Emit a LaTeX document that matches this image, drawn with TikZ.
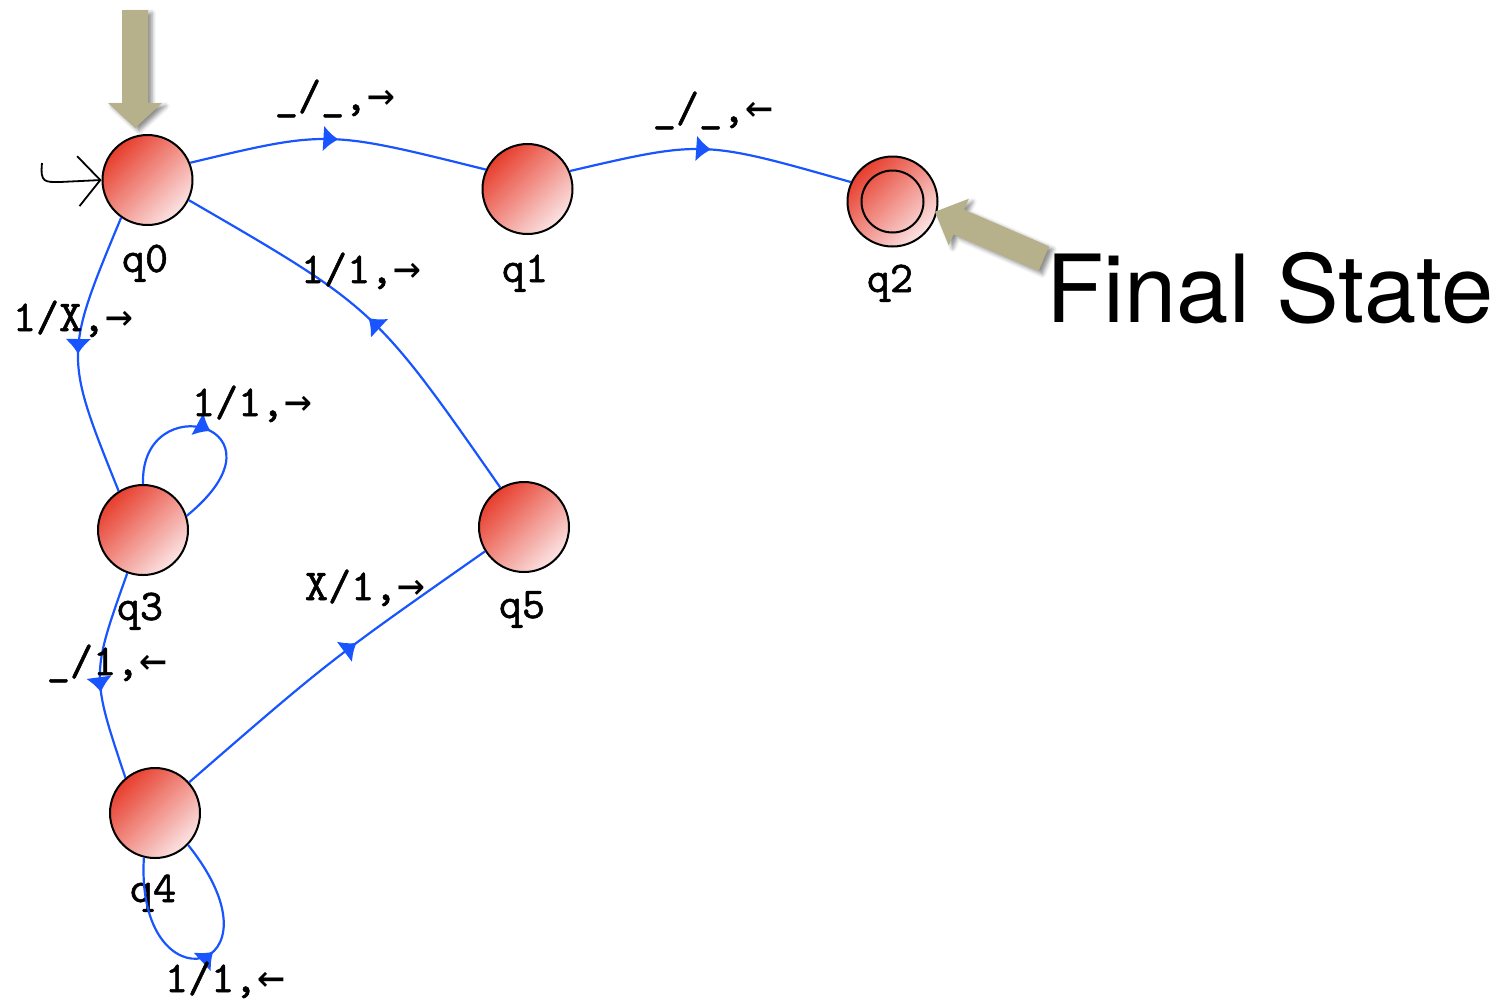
\documentclass[tikz,border=0pt]{standalone}
\usepackage{fontspec}
\newfontfamily\labfont{lmmono10-regular.otf}[FakeBold=1.2]
\newfontfamily\arrfont{DejaVu Sans Mono}[Scale=1.05]
\newfontfamily\bigfont{TeX Gyre Heros}
\usetikzlibrary{arrows.meta,decorations.markings,shadows.blur}
\definecolor{nodeRed}{RGB}{231,62,45}
\definecolor{nodePink}{RGB}{251,228,228}
\definecolor{edgeBlue}{RGB}{25,85,255}
\definecolor{khaki}{RGB}{182,177,139}
\tikzset{
  state/.style={circle, draw=black, line width=1pt, minimum size=45pt, inner sep=0pt,
    top color=nodeRed, bottom color=nodePink, shading angle=45},
  slabel/.style={anchor=base, inner sep=0pt, font=\labfont\fontsize{22}{26}\selectfont},
  elabel/.style={anchor=base, inner sep=0pt, font=\labfont\fontsize{22}{26}\selectfont},
  edge/.style={draw=edgeBlue, line width=1.1pt},
  midarrow/.style={postaction={decorate}, decoration={markings,
    mark=at position #1 with {\arrow[edgeBlue]{Latex[length=7.5pt,width=13pt]}}}},
  midarrow/.default=0.5,
  pointer/.style={fill=khaki, blur shadow={shadow xshift=2pt, shadow yshift=-1.5pt, shadow blur radius=2pt, shadow opacity=45}},
  initline/.style={draw=black, line width=0.9pt}
}
\begin{document}
\begin{tikzpicture}[x=0.5pt,y=-0.5pt]
\useasboundingbox (0,0) rectangle (1500,1003);
% states
\node[state] (q0) at (147.5,180) {};
\node[state] (q1) at (527.5,189) {};
\node[state] (q2) at (892.5,201.5) {};
\node[state] (q3) at (143,530) {};
\node[state] (q5) at (524,527) {};
\node[state] (q4) at (155,813) {};
\draw[line width=1pt] (q2.center) circle[radius=15.5pt];
% state names
\node[slabel] (n0) at (145,272) {q0};
\node[slabel] (n1) at (525,282) {q1};
\node[slabel] (n2) at (890,292) {q2};
\node[slabel] (n3) at (140,620) {q3};
\node[slabel] (n5) at (522,618) {q5};
\node[slabel] (n4) at (153,902) {q4};
% transitions
\draw[edge, midarrow] (q0.22) .. controls (327,130) .. (q1.155);
\draw[edge, midarrow] (q1.23) .. controls (703,140) .. (q2.155);
\draw[edge, midarrow] (q5.121) .. controls (375,308) .. (q0.-26);
\draw[edge, midarrow] (q0.-125) .. controls (64,355) .. (q3.122);
\draw[edge, midarrow] (q3.90) .. controls (140,385) and (298,425) .. (q3.18);
\draw[edge, midarrow=0.58] (q3.-110) .. controls (91,675) .. (q4.130);
\draw[edge, midarrow=0.58] (q4.42) .. controls (330,660) .. (q5.-148);
\draw[edge, midarrow=0.55] (q4.-104) .. controls (135,1012) and (292,975) .. (q4.-44);
% transition labels
\node[elabel] (l01) at (335,110) {\_/\_,{\arrfont →}};
\node[elabel] (l12) at (713,122) {\_/\_,{\arrfont ←}};
\node[elabel] (l50) at (361,283) {1/1,{\arrfont →}};
\node[elabel] (l03) at (73,331) {1/X,{\arrfont →}};
\node[elabel] (l33) at (252,416) {1/1,{\arrfont →}};
\node[elabel] (l34) at (107,675) {\_/1,{\arrfont ←}};
\node[elabel] (l45) at (365,600) {X/1,{\arrfont →}};
\node[elabel] (l44) at (225,992) {1/1,{\arrfont ←}};
% initial state marker
\coordinate (ini) at (42,163);
\draw[initline, -{Straight Barb[length=11pt,width=25pt]}] (ini) .. controls (40,183) and (45,182) .. (60,182) -- (q0.west);
% annotation pointers
\fill[pointer] (122,10) -- (148,10) -- (148,103) -- (162,103) -- (135,128) -- (108,103) -- (122,103) -- cycle;
\fill[pointer] (935,211.7) -- (968.9,198.7) -- (964.1,209.6) -- (1049.1,246.3) -- (1038.5,271.1) -- (953.5,234.4) -- (948.7,245.3) -- cycle;
\node[anchor=base west, inner sep=0pt, font=\bigfont\fontsize{47}{51}\selectfont] (fs) at (1046,322) {Final State};
\end{tikzpicture}
\end{document}
